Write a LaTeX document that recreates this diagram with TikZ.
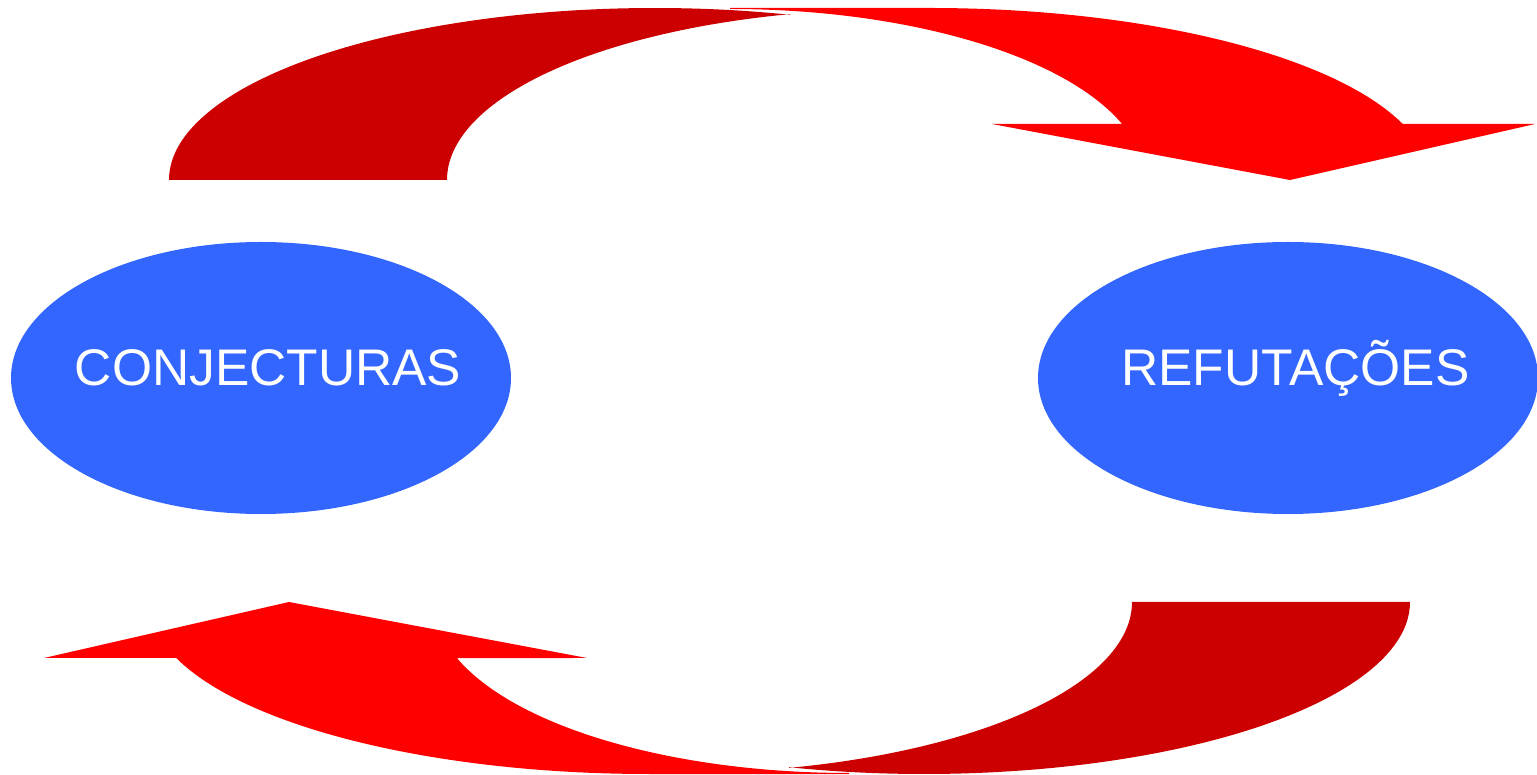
\documentclass[tikz,border=0pt]{standalone}
\usepackage{fontspec}
\setmainfont{Liberation Sans}
\usetikzlibrary{shapes.geometric}
\definecolor{ellblue}{HTML}{3366FF}
\definecolor{darkred}{HTML}{CC0000}
\definecolor{brightred}{HTML}{FF0000}
\tikzset{
  bubble/.style={ellipse, fill=ellblue, draw=none, inner sep=0pt, minimum width=500pt, minimum height=272pt},
  bubbletext/.style={anchor=base, text=white, inner sep=0pt, font=\fontsize{51.5}{60}\selectfont},
  backpart/.style={fill=darkred, draw=none},
  frontpart/.style={fill=brightred, draw=none}
}
\newcommand{\cyclearrow}{%
  % back (darker) part of the curved arrow
  \path[backpart] (169,594) arc[start angle=180, end angle=73.9, x radius=486, y radius=172]
     -- ([shift={(900,594)}]104:453 and 171)
     arc[start angle=104, end angle=180, x radius=453, y radius=171] -- cycle;
  % front (bright) part with arrowhead
  \path[frontpart] (730,766) -- (930,766)
     arc[start angle=90, end angle=19.0, x radius=500, y radius=172]
     -- (1535,650) -- (1290,594) -- (992,650)
     -- ([shift={(730,594)}]19.12:415 and 171)
     arc[start angle=19.12, end angle=90, x radius=415, y radius=171] -- cycle;
}
\begin{document}
\begin{tikzpicture}[x=1pt, y=1pt]
  \useasboundingbox (0,0) rectangle (1537,774);
  \cyclearrow
  \begin{scope}[rotate around={180:(789.5,383)}]
    \cyclearrow
  \end{scope}
  \node[bubble] (conj) at (261,396) {};
  \node[bubble] (refut) at (1288,396) {};
  \node[bubbletext] (conjtext) at (268,388) {CONJECTURAS};
  \node[bubbletext] (refuttext) at (1295.5,388) {REFUTAÇÕES};
\end{tikzpicture}
\end{document}
